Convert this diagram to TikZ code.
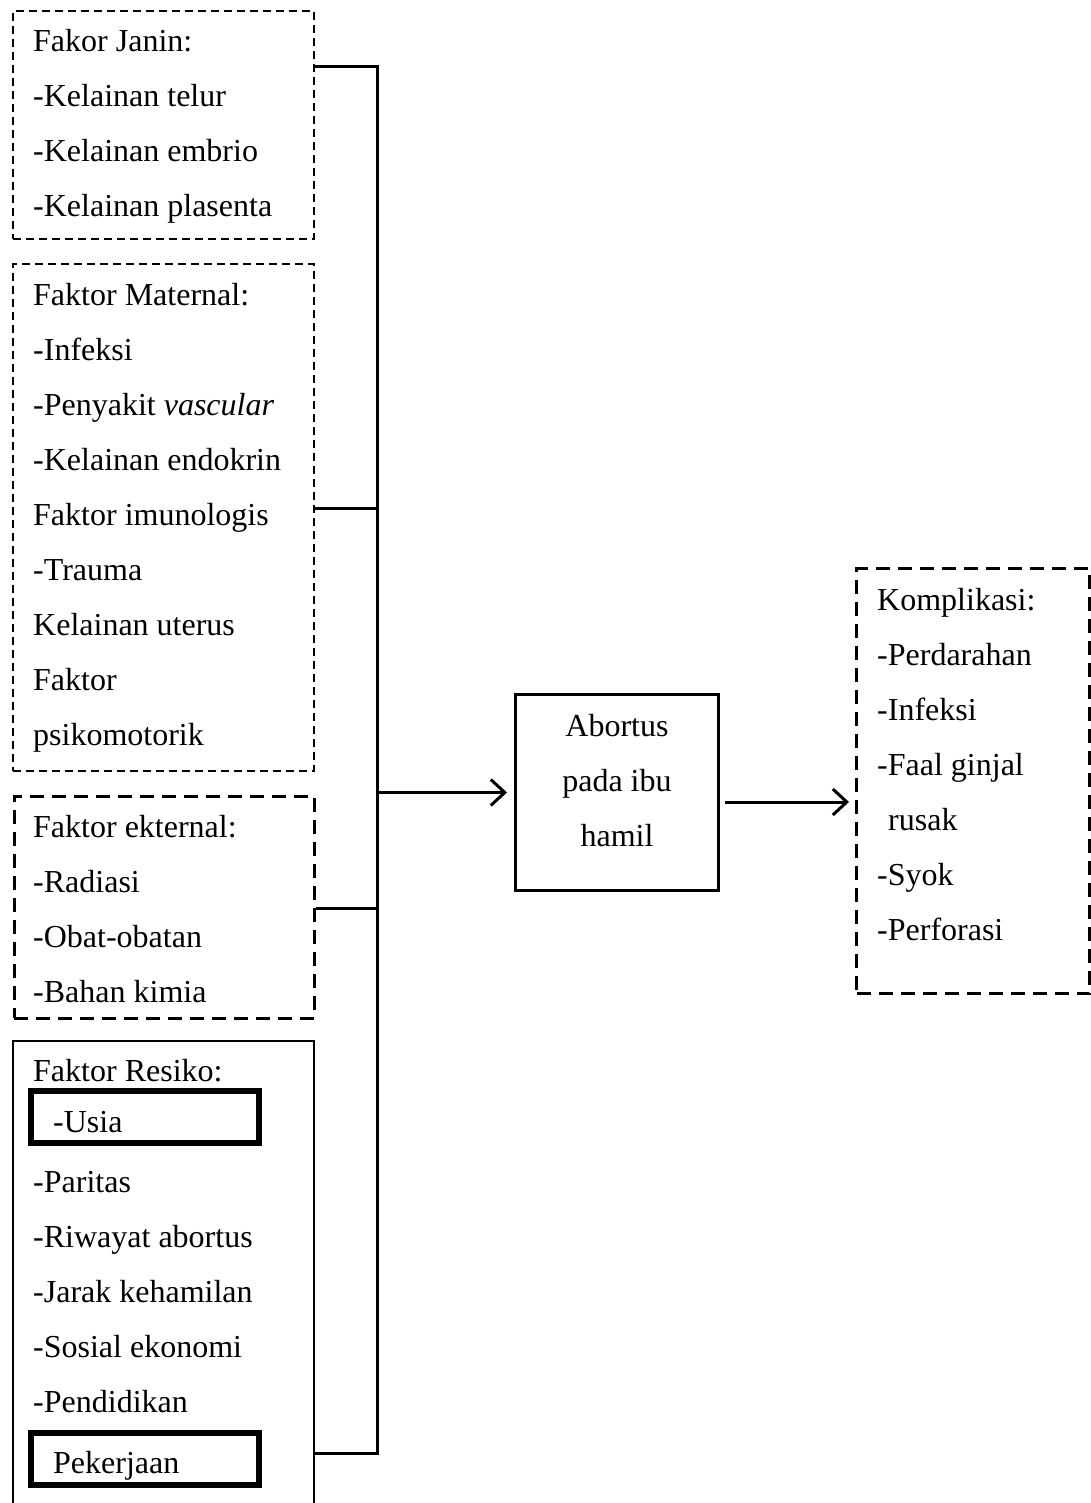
\documentclass[tikz,border=0pt]{standalone}
\usepackage{fontspec}
\setmainfont{Liberation Serif}
\usetikzlibrary{arrows.meta}
\definecolor{primary}{RGB}{0,0,0}

\begin{document}
\begin{tikzpicture}[x=1pt,y=-1pt,
  txt/.style={anchor=base west,inner sep=0pt,align=left,font=\fontsize{32}{55}\selectfont},
  thinbox/.style={draw=primary,line width=1.6pt,dash pattern=on 8pt off 5pt,anchor=north west,inner sep=0pt},
  thickbox/.style={draw=primary,line width=3.2pt,dash pattern=on 14pt off 8pt,anchor=north west,inner sep=0pt},
  solidbox/.style={draw=primary,line width=1.6pt,anchor=north west,inner sep=0pt},
  riskbox/.style={draw=primary,line width=6pt,anchor=north west,inner sep=0pt,minimum width=228pt,minimum height=52pt},
  conn/.style={draw=primary,line width=3pt},
  arr/.style={conn,-{Straight Barb[length=14pt,width=26pt]}}]
\useasboundingbox (0,0) rectangle (1091,1503);
% factor boxes (text nodes sit on the baseline of their last line)
\node[thinbox,minimum width=301pt,minimum height=228pt] (janin) at (12,10) {};
\node[txt] (janintxt) at (33,217) {Fakor Janin:\\-Kelainan telur\\-Kelainan embrio\\-Kelainan plasenta};
\node[thinbox,minimum width=301pt,minimum height=507pt] (maternal) at (12,263) {};
\node[txt] (maternaltxt) at (33,745) {Faktor Maternal:\\-Infeksi\\-Penyakit \textit{vascular}\\-Kelainan endokrin\\Faktor imunologis\\-Trauma\\Kelainan uterus\\Faktor\\psikomotorik};
\node[thickbox,minimum width=300pt,minimum height=222pt] (ekternal) at (12.5,794.5) {};
\node[txt] (ekternaltxt) at (33,1002) {Faktor ekternal:\\-Radiasi\\-Obat-obatan\\-Bahan kimia};
\node[solidbox,minimum width=301pt,minimum height=490pt] (resiko) at (12,1040) {};
\node[txt] (resikotxt) at (33,1081) {Faktor Resiko:};
\node[riskbox] (usia) at (28,1088) {};
\node[txt] (usiatxt) at (53,1132) {-Usia};
\node[txt] (lainnya) at (33,1412) {-Paritas\\-Riwayat abortus\\-Jarak kehamilan\\-Sosial ekonomi\\-Pendidikan};
\node[riskbox] (kerja) at (28,1430) {};
\node[txt] (kerjatxt) at (53,1473) {Pekerjaan};
% outcome
\node[draw=primary,line width=3pt,minimum width=203pt,minimum height=196pt,anchor=north west,inner sep=0pt] (abortus) at (514,693) {};
\node[txt,anchor=base,align=center] (abortustxt) at (617,846) {Abortus\\pada ibu\\hamil};
\node[thickbox,minimum width=233pt,minimum height=425pt] (komplikasi) at (855,567) {};
\node[txt] (komplikasitxt) at (877,940) {Komplikasi:\\-Perdarahan\\-Infeksi\\-Faal ginjal\\\hspace{11pt}rusak\\-Syok\\-Perforasi};
% connectors
\coordinate (jtap) at (377,67);
\coordinate (rtap) at (377,1453);
\coordinate (ktap) at (0,802);
\draw[conn] (janin.east |- jtap) -- (jtap) -- (rtap) -- (resiko.east |- rtap);
\draw[conn] (maternal.east |- 0,508) -- (jtap |- 0,508);
\draw[conn] (ekternal.east |- 0,908) -- (jtap |- 0,908);
\draw[arr,shorten >=7pt] (jtap |- abortus.west) -- (abortus.west);
\draw[arr,shorten <=5pt,shorten >=6pt] (abortus.east |- ktap) -- (komplikasi.west |- ktap);
\end{tikzpicture}
\end{document}
